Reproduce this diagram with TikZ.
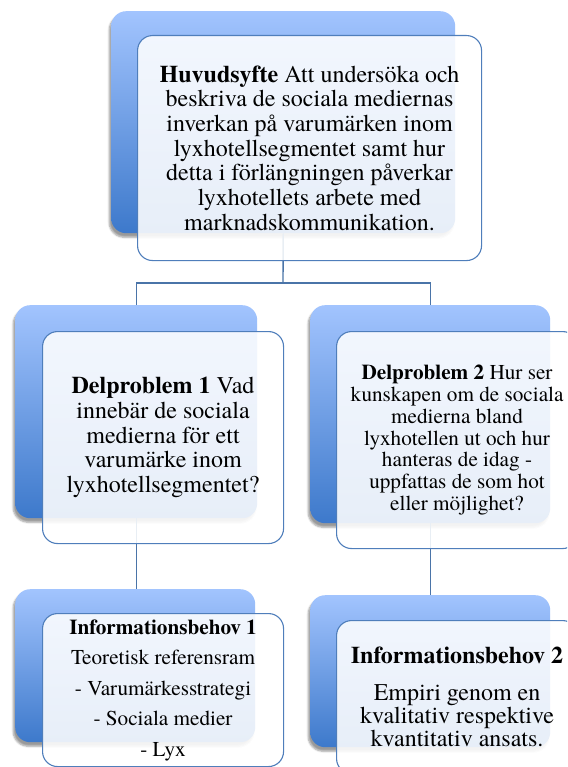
\documentclass[tikz,border=0pt]{standalone}
\usepackage{fontspec}
\setmainfont{texgyretermes}[Extension=.otf, UprightFont=*-regular, BoldFont=*-bold, ItalicFont=*-italic, BoldItalicFont=*-bolditalic]
\usetikzlibrary{shadows.blur}
\definecolor{backtop}{HTML}{A2C4FE}
\definecolor{backbot}{HTML}{3D79CB}
\definecolor{frontline}{HTML}{4F7EBB}
\definecolor{frontfill}{HTML}{FFFFFF}
\definecolor{connline}{HTML}{4A74A8}
\tikzset{
  backbox/.style={rounded corners=15pt, top color=backtop, bottom color=backbot,
    draw=none, anchor=north west, inner sep=0pt,
    blur shadow={shadow xshift=-2pt, shadow yshift=-4pt, shadow blur steps=6, shadow opacity=40}},
  frontbox/.style={rounded corners=15pt, draw=frontline, line width=1.1pt,
    fill=frontfill, fill opacity=0.88, text opacity=1, anchor=north west,
    inner sep=2pt, align=center, text=black},
  conn/.style={draw=connline, line width=1.4pt},
}
\begin{document}
\begin{tikzpicture}[x=1pt,y=-1pt]
\useasboundingbox (0,0) rectangle (567,767);
\clip (0,0) rectangle (567,767);
% back boxes
\node[backbox, minimum width=344pt, minimum height=222pt] (b0) at (111,11) {};
\node[backbox, minimum width=242pt, minimum height=213pt] (b1) at (15,305) {};
\node[backbox, minimum width=240pt, minimum height=218pt] (b2) at (310,305) {};
\node[backbox, minimum width=240pt, minimum height=153pt] (b3) at (15,589) {};
\node[backbox, minimum width=240pt, minimum height=152pt] (b4) at (310,595) {};
% connectors
\coordinate (j) at (283,283);
\draw[conn] (b0.south) -- (j);
\draw[conn] (b1.north) |- (j) -| (b2.north);
\draw[conn] (b1.south) -- (b1.south |- b3.north);
\draw[conn] (b2.south) -- (b2.south |- b4.north);
% front boxes
\node[frontbox, minimum width=344pt, minimum height=225pt,
  font=\fontsize{24pt}{24.7pt}\selectfont] (f0) at (137,35)
  {\textbf{Huvudsyfte} Att undersöka och\\beskriva de sociala mediernas\\inverkan på varumärken inom\\lyxhotellsegmentet samt hur\\detta i förlängningen påverkar\\lyxhotellets arbete med\\marknadskommunikation.};
\node[frontbox, minimum width=241pt, minimum height=212pt,
  font=\fontsize{24pt}{24.7pt}\selectfont] (f1) at (42,331)
  {\textbf{Delproblem 1} Vad\\innebär de sociala\\medierna för ett\\varumärke inom\\lyxhotellsegmentet?};
\node[frontbox, minimum width=241pt, minimum height=217pt,
  font=\fontsize{21.2pt}{21.7pt}\selectfont] (f2) at (336,331)
  {\textbf{Delproblem 2} Hur ser\\kunskapen om de sociala\\medierna bland\\lyxhotellen ut och hur\\hanteras de idag -\\uppfattas de som hot\\eller möjlighet?};
\node[frontbox, minimum width=241pt, minimum height=153pt,
  font=\fontsize{21.2pt}{30.5pt}\selectfont] (f3) at (42,613)
  {\textbf{Informationsbehov 1}\\Teoretisk referensram\\- Varumärkesstrategi\\- Sociala medier\\- Lyx};
\node[frontbox, minimum width=241pt, minimum height=153pt,
  font=\fontsize{24pt}{23.3pt}\selectfont] (f4) at (336,620)
  {\textbf{Informationsbehov 2}\\[13pt]Empiri genom en\\kvalitativ respektive\\kvantitativ ansats.};
\end{tikzpicture}
\end{document}
